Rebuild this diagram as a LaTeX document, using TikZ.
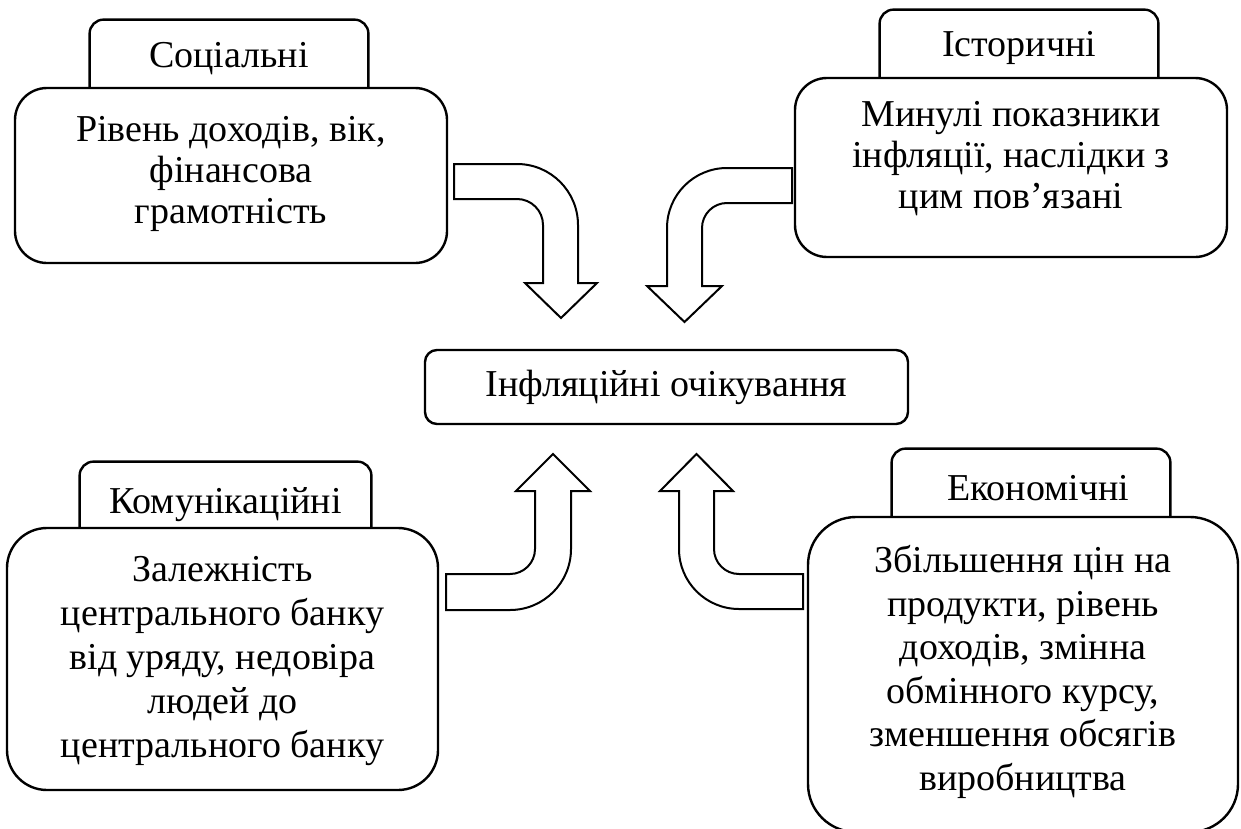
\documentclass[tikz,border=0pt]{standalone}
\usepackage{fontspec}
\setmainfont{Liberation Serif}
\begin{document}
\begin{tikzpicture}[x=0.5pt,y=-0.5pt,
  txt/.style={font=\fontsize{19}{20.5}\selectfont, align=center, inner sep=0pt},
  box/.style={draw, line width=1.2pt, rounded corners=16pt, fill=white, inner sep=0pt},
  tabbox/.style={inner sep=0pt, txt, text depth=0pt},
  tabline/.style={draw, line width=1.2pt, rounded corners=7pt},
  barrow/.style={draw, line width=1pt, fill=white, line join=miter}]
\useasboundingbox (0,0) rectangle (1241,829);
\clip (0,0) rectangle (1241,829);

% Social
\node[tabbox, text height=14pt, minimum width=139pt, minimum height=34pt] (soctab) at (229,54) {Соціальні};
\draw[tabline] (soctab.south west) -- (soctab.north west) -- (soctab.north east) -- (soctab.south east);
\node[box, minimum width=216pt, minimum height=87.5pt] (soc) at (231,175.5) {};
\node[txt] (soctext) at (231,174) {Рівень доходів, вік,\\фінансова\\грамотність};

% Historic
\node[tabbox, text height=13pt, minimum width=139pt, minimum height=34pt] (histab) at (1019,44) {Історичні};
\draw[tabline] (histab.south west) -- (histab.north west) -- (histab.north east) -- (histab.south east);
\node[box, minimum width=216pt, minimum height=89.5pt] (his) at (1011,167.5) {};
\node[txt] (histext) at (1011,159) {Минулі показники\\інфляції, наслідки з\\цим пов’язані};

% Communication
\node[tabbox, text height=18pt, minimum width=145.5pt, minimum height=33pt] (comtab) at (225.5,495) {Комунікаційні};
\draw[tabline] (comtab.south west) -- (comtab.north west) -- (comtab.north east) -- (comtab.south east);
\node[box, rounded corners=20pt, minimum width=215.5pt, minimum height=131pt] (com) at (222.5,659) {};
\node[txt, font=\fontsize{19}{22}\selectfont] (comtext) at (222.5,661)
  {Залежність\\центрального банку\\від уряду, недовіра\\людей до\\центрального банку};

% Economic
\node[tabbox, text height=17pt, minimum width=139pt, minimum height=34pt] (ecotab) at (1031,483) {\hspace{7pt}Економічні};
\draw[tabline] (ecotab.south west) -- (ecotab.north west) -- (ecotab.north east) -- (ecotab.south east);
\node[box, rounded corners=24pt, minimum width=215pt, minimum height=157.5pt] (eco) at (1023,674.5) {};
\node[txt, font=\fontsize{19}{21.75}\selectfont] (ecotext) at (1023,672)
  {Збільшення цін на\\продукти, рівень\\доходів, змінна\\обмінного курсу,\\зменшення обсягів\\виробництва};

% Centre
\node[box, rounded corners=6pt, minimum width=241.5pt, minimum height=37pt, txt] (infl) at (666.5,387)
  {Інфляційні очікування};

% Block arrows
% top-left
\draw[barrow] (454,164) -- (517,164) arc (270:360:61) -- (578,283) -- (597,283)
  -- (561,318) -- (525,283) -- (543,283) -- (543,225) arc (0:-90:26) -- (454,199) -- cycle;
% top-right
\draw[barrow] (792,168) -- (727,168) arc (270:180:60) -- (667,286) -- (647,286)
  -- (684.5,322) -- (722,286) -- (702,286) -- (702,228) arc (180:270:25) -- (792,203) -- cycle;
% bottom-left
\draw[barrow] (446,574) -- (510,574) arc (90:0:25) -- (535,491) -- (516,491)
  -- (553,454) -- (590,491) -- (571,491) -- (571,549) arc (0:90:61) -- (446,610) -- cycle;
% bottom-right
\draw[barrow] (803,574) -- (739,574) arc (90:180:25) -- (714,491) -- (733,491)
  -- (696.5,454) -- (660,491) -- (679,491) -- (679,549) arc (180:90:60) -- (803,609) -- cycle;
\end{tikzpicture}
\end{document}
